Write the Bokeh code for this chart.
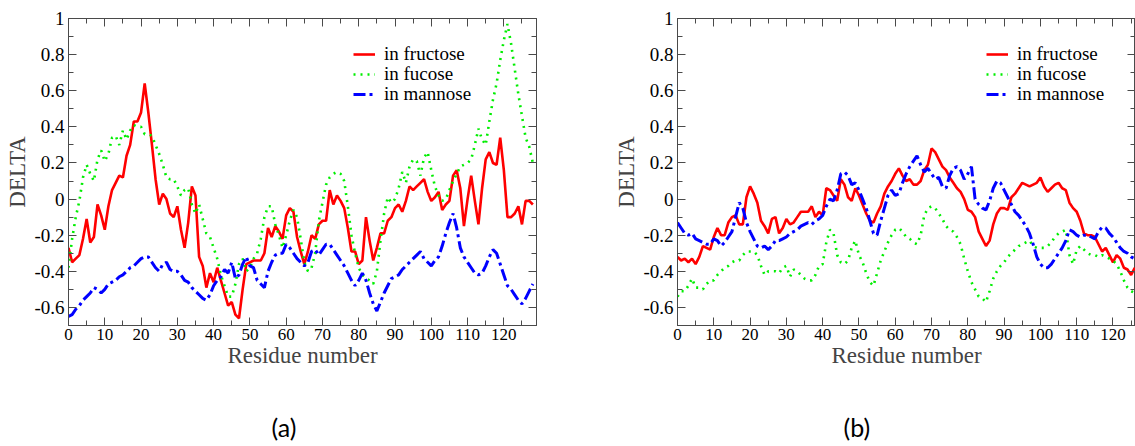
from bokeh.plotting import figure
from bokeh.layouts import row
from bokeh.models import (Range1d, FixedTicker, LinearAxis, CustomJSTickFormatter,
                          Legend, LegendItem, Title)
from bokeh.embed import file_html
from bokeh.resources import INLINE

# ---------------- data ----------------
residues_a = list(range(129))
fructose_a = [-0.27, -0.35, -0.33, -0.31, -0.22, -0.11, -0.24, -0.21, -0.03, -0.09,
              -0.17, -0.04, 0.05, 0.09, 0.13, 0.12, 0.24, 0.30, 0.43, 0.43,
              0.48, 0.64, 0.48, 0.30, 0.11, -0.03, 0.03, 0.00, -0.08, -0.10,
              -0.04, -0.17, -0.27, -0.13, 0.07, 0.02, -0.32, -0.37, -0.49, -0.41,
              -0.46, -0.38, -0.45, -0.52, -0.59, -0.57, -0.64, -0.66, -0.50, -0.36,
              -0.35, -0.34, -0.34, -0.34, -0.30, -0.16, -0.21, -0.15, -0.18, -0.22,
              -0.09, -0.05, -0.07, -0.21, -0.29, -0.36, -0.29, -0.20, -0.22, -0.14,
              -0.12, -0.12, 0.05, -0.03, 0.02, -0.01, -0.05, -0.16, -0.29, -0.29,
              -0.36, -0.34, -0.10, -0.23, -0.34, -0.27, -0.19, -0.19, -0.12, -0.10,
              -0.05, -0.03, -0.07, -0.01, 0.07, 0.05, 0.07, 0.09, 0.11, 0.04,
              -0.01, 0.01, 0.04, -0.06, -0.03, -0.01, 0.13, 0.16, 0.06, -0.15,
              0.00, 0.13, -0.01, -0.14, 0.06, 0.22, 0.26, 0.20, 0.19, 0.34,
              0.16, -0.10, -0.10, -0.08, -0.04, -0.14, -0.01, -0.01, -0.03]
fucose_a = [-0.38, -0.22, -0.10, -0.01, 0.12, 0.19, 0.14, 0.10, 0.22, 0.27,
            0.21, 0.25, 0.34, 0.35, 0.30, 0.38, 0.33, 0.38, 0.41, 0.40,
            0.40, 0.36, 0.36, 0.35, 0.30, 0.25, 0.19, 0.12, 0.11, 0.11,
            0.07, 0.02, 0.05, 0.06, -0.03, -0.08, -0.03, -0.11, -0.19, -0.21,
            -0.27, -0.33, -0.42, -0.48, -0.54, -0.54, -0.47, -0.36, -0.33, -0.40,
            -0.38, -0.33, -0.30, -0.22, -0.10, -0.04, -0.04, -0.14, -0.20, -0.27,
            -0.20, -0.12, -0.06, -0.10, -0.22, -0.35, -0.40, -0.38, -0.30, -0.12,
            -0.02, 0.08, 0.12, 0.14, 0.15, 0.14, 0.10, -0.04, -0.20, -0.30,
            -0.38, -0.42, -0.44, -0.45, -0.47, -0.40, -0.23, -0.08, 0.01, -0.02,
            0.00, 0.06, 0.15, 0.09, 0.18, 0.22, 0.21, 0.13, 0.23, 0.26,
            0.16, 0.07, 0.02, -0.01, 0.00, 0.05, 0.10, 0.14, 0.18, 0.19,
            0.20, 0.22, 0.30, 0.39, 0.33, 0.30, 0.43, 0.55, 0.64, 0.77,
            0.88, 0.97, 0.86, 0.72, 0.58, 0.46, 0.34, 0.29, 0.20]
mannose_a = [-0.65, -0.64, -0.61, -0.59, -0.56, -0.54, -0.52, -0.49, -0.50, -0.52,
             -0.50, -0.47, -0.46, -0.45, -0.43, -0.42, -0.40, -0.38, -0.37, -0.35,
             -0.33, -0.32, -0.32, -0.35, -0.38, -0.40, -0.36, -0.35, -0.39, -0.40,
             -0.40, -0.42, -0.45, -0.46, -0.49, -0.51, -0.53, -0.55, -0.56, -0.53,
             -0.48, -0.45, -0.43, -0.39, -0.41, -0.35, -0.44, -0.42, -0.36, -0.32,
             -0.37, -0.38, -0.45, -0.47, -0.49, -0.40, -0.35, -0.31, -0.30, -0.30,
             -0.25, -0.27, -0.30, -0.33, -0.35, -0.37, -0.35, -0.29, -0.28, -0.31,
             -0.28, -0.25, -0.25, -0.28, -0.31, -0.34, -0.37, -0.41, -0.45, -0.48,
             -0.45, -0.41, -0.45, -0.52, -0.58, -0.62, -0.57, -0.52, -0.48, -0.44,
             -0.43, -0.42, -0.39, -0.37, -0.35, -0.33, -0.31, -0.29, -0.33, -0.35,
             -0.37, -0.34, -0.32, -0.26, -0.19, -0.13, -0.08, -0.16, -0.27, -0.32,
             -0.35, -0.38, -0.41, -0.42, -0.41, -0.37, -0.32, -0.28, -0.30, -0.36,
             -0.42, -0.48, -0.50, -0.53, -0.56, -0.58, -0.55, -0.51, -0.47]

residues_b = list(range(127))
fructose_b = [-0.32, -0.34, -0.33, -0.35, -0.33, -0.36, -0.32, -0.26, -0.27, -0.28,
              -0.21, -0.16, -0.20, -0.20, -0.13, -0.10, -0.09, -0.14, -0.14, 0.01,
              0.07, 0.03, -0.02, -0.12, -0.15, -0.19, -0.11, -0.10, -0.19, -0.16,
              -0.11, -0.14, -0.13, -0.10, -0.07, -0.07, -0.07, -0.04, -0.10, -0.07,
              -0.09, 0.06, 0.05, 0.02, -0.01, 0.11, 0.08, 0.01, -0.01, 0.06,
              0.02, -0.03, -0.08, -0.12, -0.13, -0.08, -0.04, 0.03, 0.07, 0.10,
              0.14, 0.17, 0.13, 0.10, 0.11, 0.08, 0.08, 0.10, 0.16, 0.19,
              0.28, 0.26, 0.22, 0.18, 0.16, 0.12, 0.09, 0.06, 0.04, 0.00,
              -0.06, -0.07, -0.10, -0.18, -0.22, -0.26, -0.23, -0.14, -0.08, -0.05,
              -0.05, -0.06, 0.01, 0.03, 0.06, 0.09, 0.08, 0.07, 0.08, 0.09,
              0.12, 0.07, 0.04, 0.06, 0.08, 0.09, 0.06, 0.05, -0.02, -0.05,
              -0.07, -0.12, -0.19, -0.20, -0.20, -0.21, -0.25, -0.29, -0.27, -0.31,
              -0.35, -0.31, -0.33, -0.38, -0.39, -0.42, -0.38]
fucose_b = [-0.54, -0.51, -0.51, -0.48, -0.44, -0.49, -0.49, -0.50, -0.47, -0.45,
            -0.45, -0.42, -0.40, -0.38, -0.37, -0.35, -0.34, -0.34, -0.31, -0.29,
            -0.29, -0.29, -0.31, -0.37, -0.42, -0.40, -0.40, -0.40, -0.41, -0.38,
            -0.37, -0.43, -0.39, -0.40, -0.42, -0.44, -0.45, -0.45, -0.42, -0.37,
            -0.36, -0.24, -0.17, -0.19, -0.31, -0.35, -0.36, -0.34, -0.27, -0.23,
            -0.31, -0.35, -0.41, -0.46, -0.48, -0.41, -0.34, -0.29, -0.24, -0.20,
            -0.17, -0.16, -0.18, -0.21, -0.22, -0.24, -0.25, -0.20, -0.09, -0.05,
            -0.04, -0.05, -0.08, -0.11, -0.15, -0.17, -0.18, -0.21, -0.25, -0.33,
            -0.40, -0.46, -0.50, -0.54, -0.55, -0.57, -0.51, -0.44, -0.40, -0.37,
            -0.35, -0.32, -0.30, -0.28, -0.26, -0.25, -0.24, -0.23, -0.26, -0.27,
            -0.27, -0.27, -0.26, -0.24, -0.21, -0.19, -0.18, -0.17, -0.31, -0.36,
            -0.28, -0.26, -0.28, -0.30, -0.31, -0.31, -0.32, -0.31, -0.32, -0.33,
            -0.34, -0.36, -0.40, -0.45, -0.49, -0.51, -0.52]
mannose_b = [-0.13, -0.16, -0.19, -0.20, -0.19, -0.22, -0.23, -0.24, -0.25, -0.25,
             -0.22, -0.23, -0.26, -0.24, -0.21, -0.18, -0.10, -0.02, -0.05, -0.13,
             -0.18, -0.22, -0.26, -0.27, -0.26, -0.28, -0.26, -0.23, -0.23, -0.22,
             -0.21, -0.19, -0.18, -0.17, -0.15, -0.14, -0.13, -0.14, -0.12, -0.11,
             -0.09, -0.04, 0.00, -0.01, 0.05, 0.14, 0.15, 0.13, 0.08, 0.09,
             0.05, 0.00, -0.05, -0.12, -0.19, -0.20, -0.12, -0.05, 0.02, 0.05,
             0.02, 0.03, 0.09, 0.14, 0.18, 0.21, 0.24, 0.19, 0.15, 0.17,
             0.14, 0.11, 0.12, 0.07, 0.06, 0.13, 0.17, 0.18, 0.16, 0.11,
             0.14, 0.18, 0.00, -0.03, -0.05, -0.06, -0.01, 0.06, 0.10, 0.09,
             0.05, 0.01, -0.03, -0.07, -0.09, -0.12, -0.15, -0.19, -0.25, -0.32,
             -0.36, -0.38, -0.38, -0.36, -0.33, -0.30, -0.27, -0.23, -0.17, -0.18,
             -0.20, -0.21, -0.20, -0.20, -0.21, -0.22, -0.18, -0.155, -0.16, -0.19,
             -0.21, -0.24, -0.27, -0.29, -0.30, -0.32, -0.33]

series_names = ["in fructose", "in fucose", "in mannose"]
x_major = [0, 10, 20, 30, 40, 50, 60, 70, 80, 90, 100, 110, 120]
x_minor = [5, 15, 25, 35, 45, 55, 65, 75, 85, 95, 105, 115, 125]
y_major = [-0.6, -0.4, -0.2, 0.0, 0.2, 0.4, 0.6, 0.8, 1.0]
y_minor = [-0.7, -0.5, -0.3, -0.1, 0.1, 0.3, 0.5, 0.7, 0.9]

SERIF = "'Liberation Serif', 'Times New Roman', serif"
FRAME = "#4a4a4a"


def style_axis(ax, major, minor, labels, size):
    ax.ticker = FixedTicker(ticks=major, minor_ticks=minor)
    ax.axis_line_color = FRAME
    ax.major_tick_line_color = FRAME
    ax.minor_tick_line_color = FRAME
    ax.major_tick_in = 8
    ax.major_tick_out = 0
    ax.minor_tick_in = 5
    ax.minor_tick_out = 0
    ax.major_label_text_font = SERIF
    ax.major_label_text_font_size = size
    ax.major_label_text_color = "black"
    if not labels:
        ax.formatter = CustomJSTickFormatter(code="return '';")
        ax.major_label_standoff = 0


def make_panel(xs, red, green, blue, xmax, width, border_right, legend_x, tag, tag_offset):
    p = figure(width=width, height=446, x_range=Range1d(0, xmax), y_range=Range1d(-0.7, 1.0),
               output_backend="svg", toolbar_location=None,
               min_border_left=68, min_border_right=border_right,
               min_border_top=18, min_border_bottom=106)
    p.xgrid.visible = False
    p.ygrid.visible = False
    p.outline_line_color = FRAME
    p.outline_line_width = 1
    p.background_fill_color = "white"
    p.border_fill_color = "white"

    xa = p.xaxis[0]
    style_axis(xa, x_major, x_minor, True, "17px")
    xa.major_label_standoff = 3
    xa.axis_label = "Residue number"
    xa.axis_label_text_font = SERIF
    xa.axis_label_text_font_size = "23px"
    xa.axis_label_text_font_style = "normal"
    xa.axis_label_standoff = 0

    ya = p.yaxis[0]
    style_axis(ya, y_major, y_minor, True, "19px")
    ya.formatter = CustomJSTickFormatter(code="return (Math.round(tick*10)/10).toString();")
    ya.major_label_standoff = 4
    ya.axis_label = "DELTA"
    ya.axis_label_text_font = SERIF
    ya.axis_label_text_font_size = "23px"
    ya.axis_label_text_font_style = "normal"
    ya.axis_label_standoff = 1

    top = LinearAxis()
    style_axis(top, x_major, x_minor, False, "1px")
    p.add_layout(top, "above")
    right = LinearAxis()
    style_axis(right, y_major, y_minor, False, "1px")
    p.add_layout(right, "right")

    r1 = p.line(xs, red, line_color="#ff0000", line_width=2.6)
    r2 = p.line(xs, green, line_color="#00ee00", line_width=2.6, line_dash="2 5")
    r3 = p.line(xs, blue, line_color="#0000ff", line_width=3, line_dash="12 4 3 4")

    # one legend entry per row, 20 px apart
    for name, rend, ly in zip(series_names, [r1, r2, r3], [260, 240, 220]):
        lg = Legend(items=[LegendItem(label=name, renderers=[rend])],
                    location=(legend_x, ly), orientation="vertical",
                    border_line_color=None, background_fill_alpha=0,
                    padding=0, margin=0, spacing=0,
                    glyph_width=22, glyph_height=20, label_height=20,
                    label_standoff=9, label_text_font=SERIF,
                    label_text_font_size="19px", label_text_color="black")
        p.add_layout(lg)

    p.add_layout(Title(text=" ", text_font_size="20px"), "below")
    p.add_layout(Title(text=tag, text_font="Lato", text_font_size="25px",
                       text_font_style="normal", text_color="black",
                       align="left", offset=tag_offset), "below")
    return p


p1 = make_panel(residues_a, fructose_a, fucose_a, mannose_a, 129, 609, 73, 285, "(a)", 203)
p2 = make_panel(residues_b, fructose_b, fucose_b, mannose_b, 126.2, 526, 0, 309, "(b)", 166)

layout = row(p1, p2)
open("out.html", "w").write(file_html(layout, INLINE))
